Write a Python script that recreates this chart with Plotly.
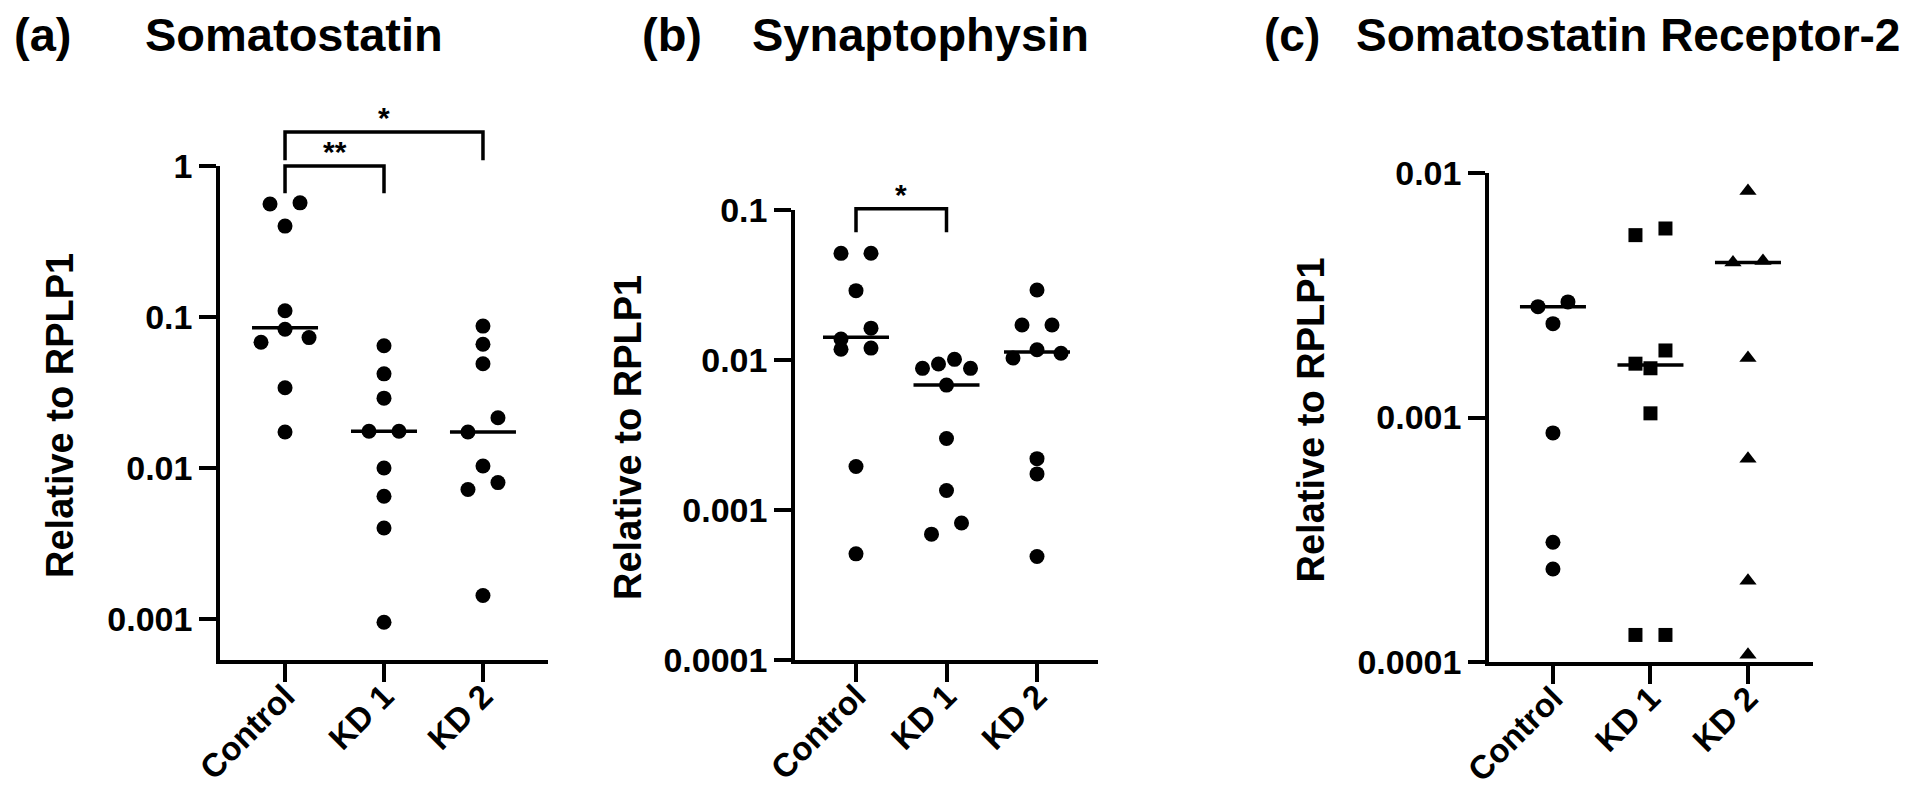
import numpy as np
import plotly.graph_objects as go

# page body has an 8px margin: the figure is sized to fit the 1920x808 window
OFF = 8
W, H = 1920 - 2 * OFF, 808 - 2 * OFF
FONT = "Liberation Sans, Arial, Helvetica, sans-serif"

categories = ["Control", "KD 1", "KD 2"]

# ---- (a) Somatostatin ----
sst_title = "Somatostatin"
sst_control = [0.57, 0.56, 0.40, 0.11, 0.083, 0.073, 0.068, 0.034, 0.0173]
sst_kd1 = [0.0645, 0.042, 0.029, 0.0175, 0.0175, 0.010, 0.0065, 0.0040, 0.00095]
sst_kd2 = [0.087, 0.066, 0.049, 0.0215, 0.0173, 0.0103, 0.0080, 0.0072, 0.00143]
sst_center = [0.085, 0.0175, 0.0173]
sst_ticks = [0.001, 0.01, 0.1, 1]
sst_ticktext = ["0.001", "0.01", "0.1", "1"]
sst_brackets = [(0, 1, 1.0, 0.66, 0.66, "**"), (0, 2, 1.68, 1.09, 1.09, "*")]

# ---- (b) Synaptophysin ----
syp_title = "Synaptophysin"
syp_control = [0.0514, 0.0515, 0.029, 0.0163, 0.0138, 0.012, 0.0118, 0.00195, 0.00051]
syp_kd1 = [0.0101, 0.0094, 0.0088, 0.0088, 0.0068, 0.0030, 0.00135, 0.00082, 0.00069]
syp_kd2 = [0.0293, 0.0171, 0.0171, 0.0117, 0.0111, 0.0103, 0.0022, 0.00174, 0.00049]
syp_center = [0.0142, 0.0068, 0.0113]
syp_ticks = [0.0001, 0.001, 0.01, 0.1]
syp_ticktext = ["0.0001", "0.001", "0.01", "0.1"]
syp_brackets = [(0, 1, 0.102, 0.071, 0.071, "*")]

# ---- (c) Somatostatin Receptor-2 ----
sstr2_title = "Somatostatin Receptor-2"
sstr2_control = [0.00297, 0.00284, 0.00242, 0.000865, 0.000309, 0.00024]
sstr2_kd1 = [0.00593, 0.00557, 0.00188, 0.00166, 0.00159, 0.00104, 0.000129, 0.000129]
sstr2_kd2 = [0.00845, 0.00437, 0.0043, 0.00175, 0.000678, 0.000215, 0.000107]
sstr2_center = [0.00284, 0.00164, 0.0043]
sstr2_ticks = [0.0001, 0.001, 0.01]
sstr2_ticktext = ["0.0001", "0.001", "0.01"]
sstr2_brackets = []

y_title = "Relative to RPLP1"

# ---- layout geometry (window pixels) ----
panels = [
    dict(letter="(a)", title=sst_title, groups=[sst_control, sst_kd1, sst_kd2],
         symbols=["circle", "circle", "circle"], center=sst_center,
         ticks=sst_ticks, ticktext=sst_ticktext, brackets=sst_brackets,
         x_px=(220, 548), y_px=(166, 660), yrange=(-3.272, 0.0), xrange=(-0.657, 2.657),
         letter_x=12, title_x=143, ytitle_x=60, title_size=47),
    dict(letter="(b)", title=syp_title, groups=[syp_control, syp_kd1, syp_kd2],
         symbols=["circle", "circle", "circle"], center=syp_center,
         ticks=syp_ticks, ticktext=syp_ticktext, brackets=syp_brackets,
         x_px=(795, 1098), y_px=(210, 660), yrange=(-4.0, -1.0), xrange=(-0.674, 2.674),
         letter_x=640, title_x=750, ytitle_x=628, title_size=47),
    dict(letter="(c)", title=sstr2_title, groups=[sstr2_control, sstr2_kd1, sstr2_kd2],
         symbols=["circle", "square", "triangle-up"], center=sstr2_center,
         ticks=sstr2_ticks, ticktext=sstr2_ticktext, brackets=sstr2_brackets,
         x_px=(1489, 1813), y_px=(173, 662), yrange=(-4.0, -2.0), xrange=(-0.656, 2.667),
         letter_x=1262, title_x=1354, ytitle_x=1310, title_size=46),
]
TITLE_Y = 35

MARKER_SIZE = {"circle": 15, "square": 14, "triangle-up": 15}


def px_x(px):
    return (px - OFF) / W


def px_y(py):
    return 1 - (py - OFF) / H


def swarm(values, px_per_decade, px_per_cat, row_gap=15):
    """Row-based symmetric scatter layout (GraphPad-like)."""
    order = sorted(range(len(values)), key=lambda i: -values[i])
    rows = []
    for i in order:
        py = -np.log10(values[i]) * px_per_decade
        if rows and py - rows[-1][0] < row_gap:
            rows[-1][1].append(i)
        else:
            rows.append([py, [i]])
    offs = [0.0] * len(values)
    for _, idx in rows:
        n = len(idx)
        s = {2: 30, 3: 24}.get(n, 16)
        if n % 2 == 1:
            slots = [0.0]
            for k in range(1, n // 2 + 1):
                slots += [k * s, -k * s]
        else:
            slots = []
            for k in range(n // 2):
                slots += [(k + 0.5) * s, -(k + 0.5) * s]
        for i, sl in zip(idx, slots):
            offs[i] = sl / px_per_cat
    return offs


fig = go.Figure()
layout = dict(template="none", width=W, height=H, autosize=False,
              margin=dict(l=0, r=0, t=0, b=0, pad=0),
              paper_bgcolor="white", plot_bgcolor="white", showlegend=False,
              font=dict(family=FONT, color="black"))
annotations = []
shapes = []

for pi, P in enumerate(panels):
    n = pi + 1
    xa = "x" if n == 1 else f"x{n}"
    ya = "y" if n == 1 else f"y{n}"
    x0, x1 = P["x_px"]
    y0, y1 = P["y_px"]
    yr = P["yrange"]
    xr = P["xrange"]
    ppd = (y1 - y0) / (yr[1] - yr[0])
    ppc = (x1 - x0) / (xr[1] - xr[0])

    for ci, vals in enumerate(P["groups"]):
        offs = swarm(vals, ppd, ppc)
        sym = P["symbols"][ci]
        fig.add_trace(go.Scatter(
            x=[ci + o for o in offs], y=vals, mode="markers",
            marker=dict(symbol=sym, size=MARKER_SIZE[sym], color="black", line=dict(width=0)),
            xaxis=xa, yaxis=ya, cliponaxis=False, hoverinfo="skip"))

    half = 33 / ppc
    lx, ly = [], []
    for ci, c in enumerate(P["center"]):
        lx += [ci - half, ci + half, None]
        ly += [c, c, None]
    fig.add_trace(go.Scatter(x=lx, y=ly, mode="lines", line=dict(color="black", width=3.5),
                             xaxis=xa, yaxis=ya, cliponaxis=False, hoverinfo="skip"))

    layout["xaxis" if n == 1 else f"xaxis{n}"] = dict(
        domain=[px_x(x0), px_x(x1)], range=list(xr), anchor=ya, automargin=False,
        tickmode="array", tickvals=[0, 1, 2], ticktext=categories, tickangle=-45,
        ticks="outside", ticklen=18, tickwidth=3.5, tickcolor="black", ticklabelstandoff=-18,
        showline=True, linewidth=3.5, linecolor="black",
        showgrid=False, zeroline=False,
        tickfont=dict(family=FONT, size=33, color="black", weight="bold"), fixedrange=True)
    layout["yaxis" if n == 1 else f"yaxis{n}"] = dict(
        domain=[px_y(y1), px_y(y0)], type="log", range=list(yr), anchor=xa, automargin=False,
        tickmode="array", tickvals=P["ticks"], ticktext=P["ticktext"],
        ticks="outside", ticklen=17, tickwidth=3.5, tickcolor="black",
        showline=True, linewidth=3.5, linecolor="black",
        showgrid=False, zeroline=False,
        tickfont=dict(family=FONT, size=34, color="black", weight="bold"), fixedrange=True)

    # titles
    for txt, tx in ((P["letter"], P["letter_x"]), (P["title"], P["title_x"])):
        annotations.append(dict(text=txt, xref="paper", yref="paper",
                                x=px_x(tx), y=px_y(TITLE_Y), xanchor="left", yanchor="middle",
                                showarrow=False,
                                font=dict(family=FONT, size=P["title_size"], color="black",
                                          weight="bold")))
    annotations.append(dict(text=y_title, xref="paper", yref="paper", textangle=-90,
                            x=px_x(P["ytitle_x"]), y=px_y((y0 + y1) / 2 + 3),
                            xanchor="center", yanchor="middle", showarrow=False,
                            font=dict(family=FONT, size=38, color="black", weight="bold")))

    # significance brackets
    def frac(v, yr=yr):
        return (np.log10(v) - yr[0]) / (yr[1] - yr[0])

    for (ca, cb, bar, end_a, end_b, label) in P["brackets"]:
        path = (f"M {ca},{frac(end_a):.5f} L {ca},{frac(bar):.5f} "
                f"L {cb},{frac(bar):.5f} L {cb},{frac(end_b):.5f}")
        shapes.append(dict(type="path", path=path, xref=xa, yref=f"{ya} domain",
                           line=dict(color="black", width=3.5), layer="above"))
        annotations.append(dict(text=label, xref=xa, yref=f"{ya} domain", x=(ca + cb) / 2,
                                y=frac(bar), xanchor="center", yanchor="bottom", yshift=-4,
                                showarrow=False,
                                font=dict(family=FONT, size=30, color="black", weight="bold")))

layout["annotations"] = annotations
layout["shapes"] = shapes
fig.update_layout(**layout)
fig.write_html("out.html")
